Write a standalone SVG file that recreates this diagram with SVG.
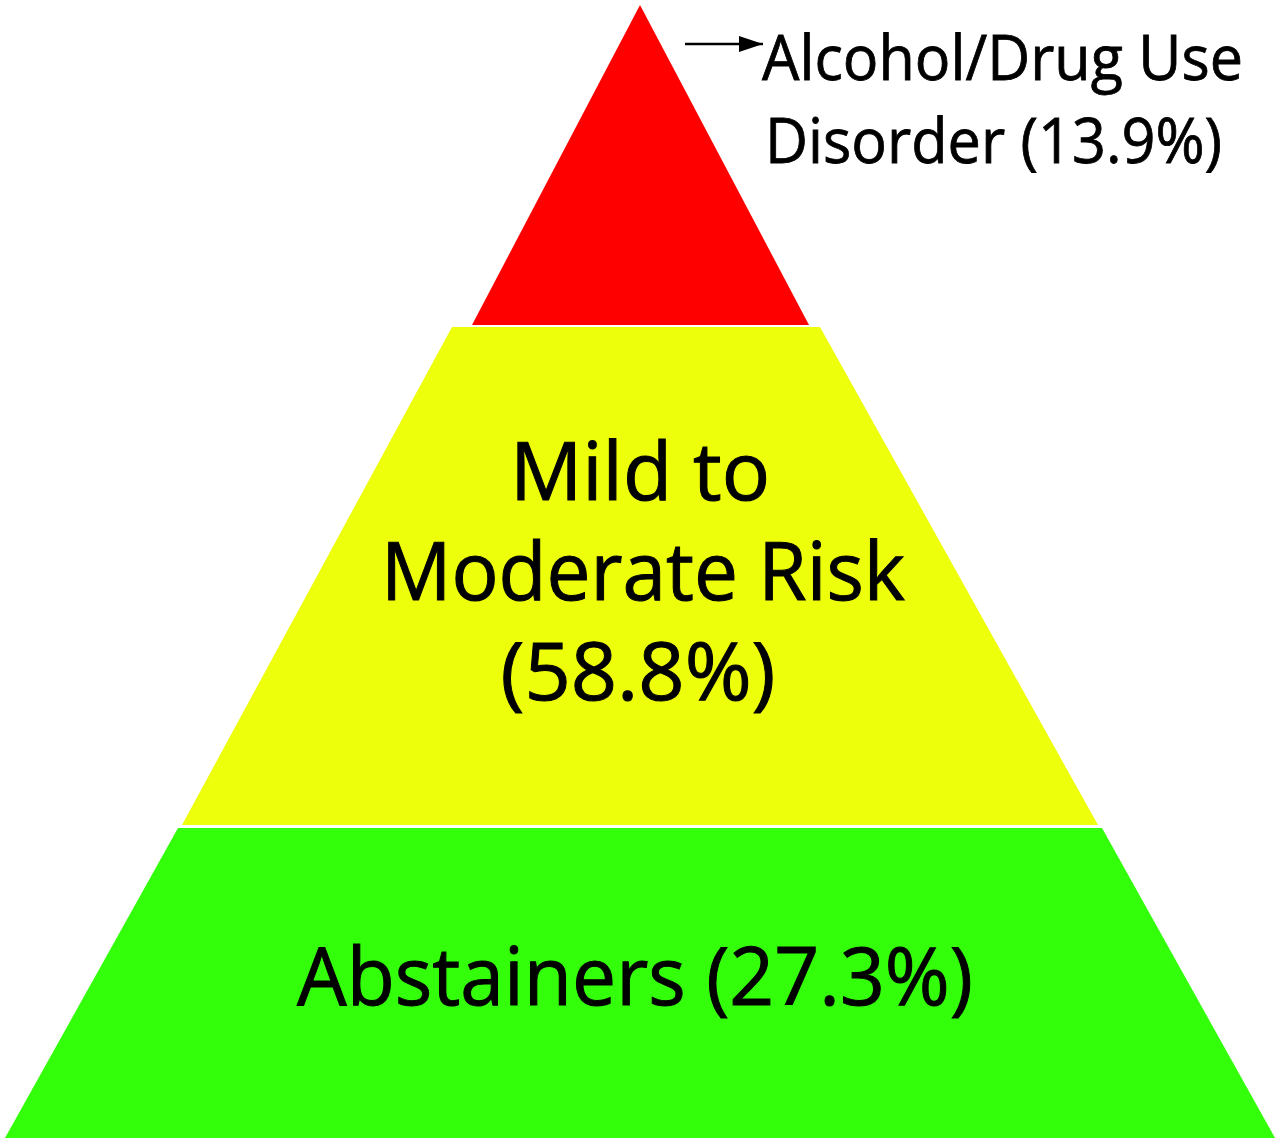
<svg xmlns="http://www.w3.org/2000/svg" width="1280" height="1146" viewBox="0 0 1280 1146">
  <style>
    .lbl { font-family: "Open Sans", "Noto Sans", "Liberation Sans", sans-serif; fill: #000; stroke: #000; stroke-width: 1; }
    .big { font-size: 80px; }
    .small { font-size: 63px; stroke-width: 0.8; }
  </style>
  <defs>
    <marker id="arrBig" viewBox="0 0 24 16" refX="24" refY="8" markerWidth="24" markerHeight="16" markerUnits="userSpaceOnUse" orient="auto">
      <path d="M0,0 L24,8 L0,16 Z" fill="#000"/>
    </marker>
  </defs>
  <rect width="1280" height="1146" fill="#fff"/>
  <g id="node-disorder">
    <polygon points="640,5 809,325 472,325" fill="#ff0000"/>
  </g>
  <g id="node-moderate">
    <polygon points="452,327 820,327 1098,825 182,825" fill="#eeff0b"/>
    <text class="lbl big" x="640" y="500" text-anchor="middle" textLength="260" lengthAdjust="spacingAndGlyphs">Mild to</text>
    <text class="lbl big" x="643" y="600" text-anchor="middle" textLength="524" lengthAdjust="spacingAndGlyphs">Moderate Risk</text>
    <text class="lbl big" x="638" y="700" text-anchor="middle" textLength="275" lengthAdjust="spacingAndGlyphs">(58.8%)</text>
  </g>
  <g id="node-abstainers">
    <polygon points="178,828 1102,828 1275,1138 5,1138" fill="#33ff0a"/>
    <text class="lbl big" x="635" y="1005" text-anchor="middle" textLength="676" lengthAdjust="spacingAndGlyphs">Abstainers (27.3%)</text>
  </g>
  <g id="label-disorder">
    <text class="lbl small" x="762" y="80" textLength="481" lengthAdjust="spacingAndGlyphs">Alcohol/Drug Use</text>
    <text class="lbl small" x="765" y="163" textLength="457" lengthAdjust="spacingAndGlyphs">Disorder (13.9%)</text>
  </g>
  <g id="connectors">
    <line x1="685" y1="44" x2="763" y2="44" stroke="#000" stroke-width="2.5" marker-end="url(#arrBig)"/>
  </g>
</svg>
